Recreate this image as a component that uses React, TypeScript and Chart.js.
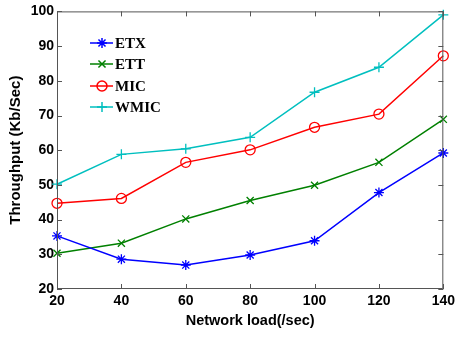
import React, { useEffect, useRef } from 'react';
import { Chart, registerables } from 'chart.js';
import { drawPoint } from 'chart.js/helpers';

Chart.register(...registerables);

const loads = [20, 40, 60, 80, 100, 120, 140];
const etx = [35.3, 28.6, 26.9, 29.8, 33.9, 47.8, 59.2];
const ett = [30.3, 33.2, 40.2, 45.5, 49.9, 56.5, 68.9];
const mic = [44.7, 46.1, 56.5, 60.1, 66.6, 70.4, 87.2];
const wmic = [50.2, 58.8, 60.4, 63.7, 76.7, 83.9, 99.0];
const seriesNames = ['ETX', 'ETT', 'MIC', 'WMIC'];
const seriesColors = ['#0000ff', '#008000', '#ff0000', '#00bfbf'];
const seriesMarkers = ['star', 'crossRot', 'circle', 'cross'];
const xTicks = [20, 40, 60, 80, 100, 120, 140];
const yTicks = [20, 30, 40, 50, 60, 70, 80, 90, 100];

const AXIS_COLOR = '#555555';

const boxPlugin = {
  id: 'boxTicks',
  afterDraw(chart: any) {
    const { ctx, chartArea, scales } = chart;
    const { left, right, top, bottom } = chartArea;
    ctx.save();
    ctx.strokeStyle = AXIS_COLOR;
    ctx.lineWidth = 1;
    ctx.beginPath();
    ctx.rect(left + 0.5, top + 0.5, right - left - 1, bottom - top - 1);
    ctx.stroke();
    const tl = 5;
    ctx.beginPath();
    for (const v of xTicks) {
      const x = Math.round(scales.x.getPixelForValue(v)) + 0.5;
      ctx.moveTo(x, bottom);
      ctx.lineTo(x, bottom - tl);
      ctx.moveTo(x, top);
      ctx.lineTo(x, top + tl);
    }
    for (const v of yTicks) {
      const y = Math.round(scales.y.getPixelForValue(v)) + 0.5;
      ctx.moveTo(left, y);
      ctx.lineTo(left + tl, y);
      ctx.moveTo(right, y);
      ctx.lineTo(right - tl, y);
    }
    ctx.stroke();
    ctx.restore();
  },
};

const legendPlugin = {
  id: 'innerLegend',
  afterDraw(chart: any) {
    const { ctx } = chart;
    const rows = [43, 64, 86, 107];
    ctx.save();
    chart.data.datasets.forEach((ds: any, i: number) => {
      const y = rows[i];
      ctx.strokeStyle = ds.borderColor;
      ctx.lineWidth = 1.5;
      ctx.beginPath();
      ctx.moveTo(90, y);
      ctx.lineTo(113, y);
      ctx.stroke();
      ctx.strokeStyle = ds.borderColor;
      ctx.fillStyle = 'rgba(0,0,0,0)';
      drawPoint(ctx, { pointStyle: ds.pointStyle, radius: ds.pointRadius, rotation: 0, borderWidth: 1.3 }, 102, y);
      ctx.fillStyle = '#000000';
      ctx.font = 'bold 15px "Liberation Serif", "Times New Roman", serif';
      ctx.textBaseline = 'middle';
      ctx.textAlign = 'left';
      ctx.fillText(ds.label, 115, y + 1);
    });
    ctx.restore();
  },
};

export default function App() {
  const ref = useRef<HTMLCanvasElement>(null);
  useEffect(() => {
    document.body.style.margin = '0';
    const seriesValues = [etx, ett, mic, wmic];
    const chart = new Chart(ref.current as HTMLCanvasElement, {
      type: 'line',
      data: {
        datasets: seriesValues.map((vals, i) => ({
          label: seriesNames[i],
          data: loads.map((x, j) => ({ x, y: vals[j] })),
          borderColor: seriesColors[i],
          backgroundColor: 'rgba(0,0,0,0)',
          pointBorderColor: seriesColors[i],
          pointBackgroundColor: 'rgba(0,0,0,0)',
          pointStyle: seriesMarkers[i],
          pointRadius: 5,
          pointBorderWidth: 1.3,
          borderWidth: 1.5,
          fill: false,
          tension: 0,
          clip: false,
        })),
      },
      options: {
        animation: false,
        responsive: false,
        maintainAspectRatio: false,
        layout: { padding: { top: 11, right: 11, left: 0, bottom: 0 } },
        plugins: {
          legend: { display: false },
          tooltip: { enabled: false },
        },
        scales: {
          x: {
            type: 'linear',
            min: 20,
            max: 140,
            afterBuildTicks: (s: any) => { s.ticks = xTicks.map((v) => ({ value: v })); },
            afterFit: (s: any) => { s.height = 49; },
            grid: { display: false, drawTicks: false },
            border: { display: false },
            ticks: {
              padding: 4,
              color: '#000000',
              font: { family: '"Liberation Sans", Arial, sans-serif', size: 14, weight: 'bold' },
              maxRotation: 0,
            },
            title: {
              display: true,
              text: 'Network load(/sec)',
              color: '#000000',
              font: { family: '"Liberation Sans", Arial, sans-serif', size: 14.5, weight: 'bold' },
              padding: { top: 8, bottom: 8 },
            },
          },
          y: {
            type: 'linear',
            min: 20,
            max: 100,
            afterBuildTicks: (s: any) => { s.ticks = yTicks.map((v) => ({ value: v })); },
            afterFit: (s: any) => { s.width = 57; },
            grid: { display: false, drawTicks: false },
            border: { display: false },
            ticks: {
              padding: 3,
              color: '#000000',
              font: { family: '"Liberation Sans", Arial, sans-serif', size: 14, weight: 'bold' },
            },
            title: {
              display: true,
              text: 'Throughput (Kb/Sec)',
              color: '#000000',
              font: { family: '"Liberation Sans", Arial, sans-serif', size: 15, weight: 'bold' },
              padding: { top: 7, bottom: 7 },
            },
          },
        },
      },
      plugins: [boxPlugin, legendPlugin],
    });
    return () => chart.destroy();
  }, []);
  return (
    <div style={{ width: 459, height: 338 }}>
      <canvas ref={ref} width={459} height={338} style={{ display: 'block' }} />
    </div>
  );
}
